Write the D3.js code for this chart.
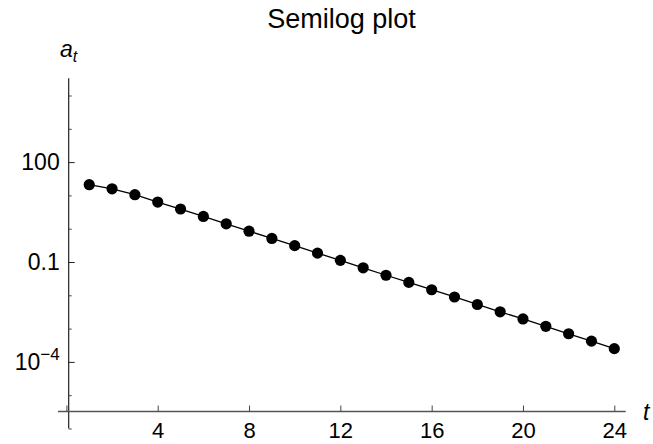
<!DOCTYPE html>
<html>
<head>
<meta charset="utf-8">
<script src="https://cdn.jsdelivr.net/npm/d3@7"></script>
<style>
  html, body { margin: 0; padding: 0; background: #fff; }
  svg { display: block; font-family: "Liberation Sans", Arial, Helvetica, sans-serif; }
</style>
</head>
<body>
<svg id="chart" width="653" height="444"></svg>
<script>
// ---- data ----
const tValues = [1,2,3,4,5,6,7,8,9,10,11,12,13,14,15,16,17,18,19,20,21,22,23,24];
const aValues = [21, 15.8, 10.5, 6.3, 3.9, 2.33, 1.40, 0.84, 0.51, 0.31, 0.185, 0.112,
                 0.067, 0.040, 0.0244, 0.0147, 0.0089, 0.0053, 0.0032, 0.00195,
                 0.00117, 0.00070, 0.00042, 0.000250];
const xTicks = [0, 4, 8, 12, 16, 20, 24];
const xTickLabels = ["", "4", "8", "12", "16", "20", "24"];
const yMajorTicks = [1e-4, 0.1, 100];
const yMajorLabels = [["10", "\u22124"], ["0.1", ""], ["100", ""]];
const yMinorTicks = [1e-6, 1e-5, 1e-3, 1e-2, 1, 10, 1e3, 1e4];
const title = "Semilog plot";

// ---- scales ----
const svg = d3.select("#chart");
const x = d3.scaleLinear().domain([0, 24]).range([66.4, 614.3]);
const y = d3.scaleLog().domain([1e-6, 1e4]).range([428.5, 95.5]);

const axisX0 = 0.1;            // where the vertical axis crosses
const axisY0 = Math.pow(10, -5.49); // where the horizontal axis crosses
const axisColor = "#444";

// ---- vertical axis ----
const yAxisX = x(axisX0);
svg.append("line")
  .attr("x1", yAxisX).attr("x2", yAxisX)
  .attr("y1", y(Math.pow(10, 4.52))).attr("y2", y(1e-6))
  .attr("stroke", "#222").attr("stroke-width", 1.2);

const gyMinor = svg.append("g").attr("transform", `translate(${yAxisX},0)`)
  .call(d3.axisLeft(y).tickValues(yMinorTicks).tickSize(-3).tickFormat(""));
gyMinor.select(".domain").remove();
gyMinor.selectAll(".tick line").attr("stroke", axisColor);

const gyMajor = svg.append("g").attr("transform", `translate(${yAxisX},0)`)
  .call(d3.axisLeft(y).tickValues(yMajorTicks).tickSize(-6).tickPadding(9)
        .tickFormat(() => ""));
gyMajor.select(".domain").remove();
gyMajor.selectAll(".tick line").attr("stroke", "#222");
gyMajor.selectAll(".tick text")
  .attr("font-size", 23).attr("fill", "#000")
  .attr("font-family", "'Liberation Sans', Arial, sans-serif")
  .each(function(d, i) {
    const lab = yMajorLabels[yMajorTicks.indexOf(d)];
    const t = d3.select(this);
    t.text(null);
    t.append("tspan").text(lab[0]);
    if (lab[1]) {
      t.append("tspan").attr("font-size", 17).attr("dy", "-0.55em").text(lab[1]);
    }
  });

// ---- horizontal axis ----
const xAxisY = y(axisY0);
svg.append("line")
  .attr("x1", x(-0.37)).attr("x2", x(24.5))
  .attr("y1", xAxisY).attr("y2", xAxisY)
  .attr("stroke", "#555").attr("stroke-width", 1.5);

const gx = svg.append("g").attr("transform", `translate(0,${xAxisY})`)
  .call(d3.axisBottom(x).tickValues(xTicks).tickSize(-6).tickPadding(11)
        .tickFormat((d) => xTickLabels[xTicks.indexOf(d)]));
gx.select(".domain").remove();
gx.selectAll(".tick line").attr("stroke", axisColor);
gx.selectAll(".tick text").attr("font-size", 22).attr("fill", "#000")
  .attr("font-family", "'Liberation Sans', Arial, sans-serif");

// ---- line + points ----
const pts = tValues.map((t, i) => [t, aValues[i]]);
svg.append("path")
  .datum(pts)
  .attr("fill", "none").attr("stroke", "#000").attr("stroke-width", 1.3)
  .attr("d", d3.line().x(d => x(d[0])).y(d => y(d[1])));

svg.append("g").selectAll("circle").data(pts).join("circle")
  .attr("cx", d => x(d[0])).attr("cy", d => y(d[1]))
  .attr("r", 5.6).attr("fill", "#000");

// ---- labels ----
svg.append("text")
  .attr("x", 341.5).attr("y", 28)
  .attr("text-anchor", "middle").attr("font-size", 27).attr("fill", "#000")
  .text(title);

const aLab = svg.append("text")
  .attr("x", 60).attr("y", 57)
  .attr("font-size", 23).attr("font-style", "italic").attr("fill", "#000");
aLab.append("tspan").text("a");
aLab.append("tspan").attr("font-size", 16).attr("dy", "0.3em").text("t");

svg.append("text")
  .attr("x", 643).attr("y", 420)
  .attr("font-size", 23).attr("font-style", "italic").attr("fill", "#000")
  .text("t");
</script>
</body>
</html>
